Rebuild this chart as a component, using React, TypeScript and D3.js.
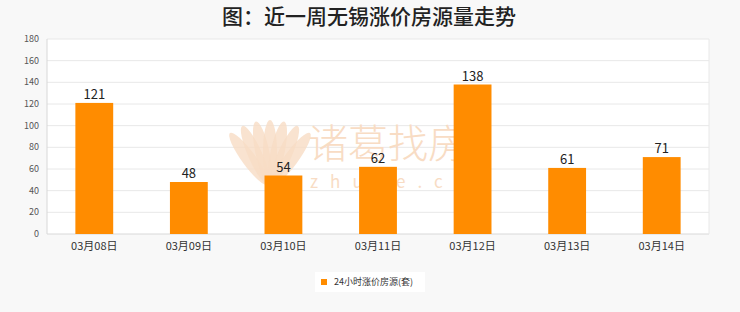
import React from "react";
import * as d3 from "d3";

const categories = ["03月08日", "03月09日", "03月10日", "03月11日", "03月12日", "03月13日", "03月14日"];
const values = [121, 48, 54, 62, 138, 61, 71];
const yTicks = [0, 20, 40, 60, 80, 100, 120, 140, 160, 180];
const title = "图：近一周无锡涨价房源量走势";
const seriesName = "24小时涨价房源(套)";

export default function App() {
  const W = 740, H = 312;
  const left = 47, right = 709, top = 39, bottom = 234;
  const x = d3.scaleBand<string>().domain(categories).range([left, right]).paddingInner(0.6).paddingOuter(0.3);
  const y = d3.scaleLinear().domain([0, 180]).range([bottom, top]);
  const font = "'Noto Sans CJK SC', 'DejaVu Sans', sans-serif";
  const wm = "#f8dcc4";
  const petals = [-60, -40, -20, 0, 20, 40, 60];
  return (
    <svg width={W} height={H} style={{ position: "absolute", left: 0, top: 0, background: "#f8f8f8" }}>
      <rect x={0} y={0} width={W} height={H} fill="#f8f8f8" />
      <text x={369} y={24} textAnchor="middle" fontSize={21} fontWeight={500} fill="#222" fontFamily={font}>{title}</text>
      <rect x={left} y={top} width={right - left} height={bottom - top} fill="#ffffff" />
      {yTicks.map((t) => (
        <g key={t}>
          <line x1={left} x2={right} y1={y(t)} y2={y(t)} stroke={t === 0 ? "#d8d8d8" : "#e8e8e8"} strokeWidth={1} />
          <text x={left - 8} y={y(t) + 3} textAnchor="end" fontSize={9} fill="#555" fontFamily={font}>{t}</text>
        </g>
      ))}
      <line x1={left} x2={left} y1={top} y2={bottom} stroke="#d8d8d8" />
      <line x1={right} x2={right} y1={top} y2={bottom} stroke="#e8e8e8" />
      <g fontFamily={font}>
        {petals.map((a) => (
          <ellipse key={a} cx={270} cy={152} rx={7} ry={32} fill={wm} opacity={0.8}
            transform={`rotate(${a * 0.6} 270 188)`} />
        ))}
        <text x={308} y={158} fontSize={40} fontWeight={300} fill={wm}>诸葛找房</text>
        <text x={310} y={188} fontSize={17} fill={wm} letterSpacing={12}>zhuge.com</text>
      </g>
      {categories.map((c, i) => (
        <g key={c}>
          <rect x={x(c)} y={y(values[i])} width={x.bandwidth()} height={bottom - y(values[i])} fill="#ff8c00" />
          <text x={(x(c) as number) + x.bandwidth() / 2} y={y(values[i]) - 4} textAnchor="middle" fontSize={13} fill="#222" fontFamily={font}>{values[i]}</text>
          <text x={(x(c) as number) + x.bandwidth() / 2} y={bottom + 16} textAnchor="middle" fontSize={11} fill="#333" fontFamily={font}>{c}</text>
        </g>
      ))}
      <rect x={315} y={272} width={110} height={20} fill="#ffffff" />
      <rect x={321} y={279} width={6} height={6} fill="#ff8c00" />
      <text x={334} y={285} fontSize={9} fill="#333" fontFamily={font}>{seriesName}</text>
    </svg>
  );
}
